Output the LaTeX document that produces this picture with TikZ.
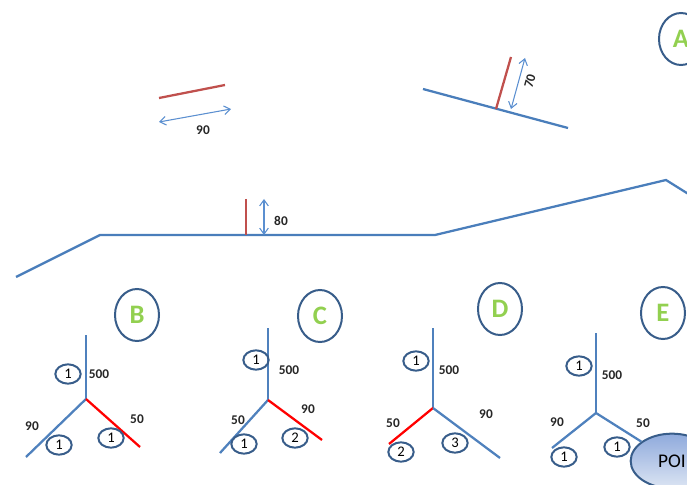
\documentclass[tikz,border=0pt]{standalone}
\usepackage{fontspec}
\setmainfont{Carlito}
\usetikzlibrary{arrows.meta,shapes.geometric}
\definecolor{lineblue}{HTML}{4F81BD}
\definecolor{roadblue}{HTML}{4A7EBB}
\definecolor{arrowblue}{HTML}{5B8FD0}
\definecolor{darkred}{HTML}{C0504D}
\definecolor{rimblue}{HTML}{385D8A}
\definecolor{lettergreen}{HTML}{92D050}
\definecolor{poitop}{HTML}{8FAADC}
\definecolor{poibottom}{HTML}{DCE5F3}
\tikzset{
  road/.style={draw=roadblue,line width=1.7pt,line join=miter},
  branch/.style={draw=lineblue,line width=1.7pt},
  hotbranch/.style={draw=red,line width=1.7pt},
  stub/.style={draw=darkred,line width=1.7pt},
  dimarrow/.style={draw=arrowblue,line width=.8pt,{Straight Barb[length=4.5pt,width=6.5pt]}-{Straight Barb[length=4.5pt,width=6.5pt]}},
  letterring/.style={ellipse,draw=rimblue,line width=1.5pt,minimum width=33pt,minimum height=39pt,inner sep=0pt,text=lettergreen,font=\fontsize{20}{22}\selectfont\bfseries},
  countring/.style={ellipse,draw=rimblue,line width=1.5pt,minimum width=19pt,minimum height=14.5pt,inner sep=0pt,font=\fontsize{11}{12}\selectfont},
  lenlabel/.style={inner sep=0pt,font=\fontsize{10}{11}\selectfont\bfseries,text=black!85},
  poinode/.style={ellipse,draw=rimblue,line width=1.5pt,minimum width=62pt,minimum height=41pt,inner sep=0pt,top color=poitop,bottom color=poibottom,font=\fontsize{14.5}{16}\selectfont}
}
\begin{document}
\begin{tikzpicture}[x=.75pt,y=-.75pt]
\useasboundingbox (0,0) rectangle (687,485);
\clip (0,0) rectangle (687,485);
% upper sketch
\coordinate (s1) at (159,98); \coordinate (s2) at (225,85);
\draw[stub] (s1) -- (s2);
\coordinate (d1) at (159,122); \coordinate (d2) at (231,109);
\draw[dimarrow] (d1) -- (d2);
\node[lenlabel] (l90) at (203,130) {90};
% A
\node[letterring] (A) at (681,39) {A};
\coordinate (a1) at (423,89); \coordinate (a2) at (568,128);
\draw[road] (a1) -- (a2);
\coordinate (a3) at (511,57); \coordinate (a4) at (496,109);
\draw[stub] (a3) -- (a4);
\coordinate (a5) at (525,58); \coordinate (a6) at (511,109);
\draw[dimarrow] (a5) -- (a6);
\node[lenlabel,rotate=75] (l70) at (530,81) {70};
% road
\coordinate (r1) at (16,277); \coordinate (r2) at (100,235); \coordinate (r3) at (435,235);
\coordinate (r4) at (666,180); \coordinate (r5) at (690,195);
\draw[road] (r1) -- (r2) -- (r3) -- (r4) -- (r5);
\coordinate (r6) at (246,199); \coordinate (r7) at (246,235);
\draw[stub] (r6) -- (r7);
\coordinate (r8) at (264,199); \coordinate (r9) at (264,235);
\draw[dimarrow] (r8) -- (r9);
\node[lenlabel] (l80) at (281,221) {80};
% B
\node[letterring] (B) at (137,315) {B};
\coordinate (bc) at (86,399); \coordinate (bt) at (86,335); \coordinate (bl) at (26,457); \coordinate (br) at (140,447);
\draw[branch] (bc) -- (bt); \draw[branch] (bc) -- (bl); \draw[hotbranch] (bc) -- (br);
\node[countring] (b1) at (68,374) {1};
\node[countring] (b2) at (59,445) {1};
\node[countring] (b3) at (111,438) {1};
\node[lenlabel] (b500) at (99,374) {500};
\node[lenlabel] (b90) at (32,426) {90};
\node[lenlabel] (b50) at (137,419) {50};
% C
\node[letterring] (C) at (320,316) {C};
\coordinate (cc) at (268,400); \coordinate (ct) at (268,328); \coordinate (cl) at (220,453); \coordinate (cr) at (322,440);
\draw[branch] (cc) -- (ct); \draw[branch] (cc) -- (cl); \draw[hotbranch] (cc) -- (cr);
\node[countring] (c1) at (256,360) {1};
\node[countring] (c2) at (244,444) {1};
\node[countring] (c3) at (295,438) {2};
\node[lenlabel] (c500) at (289,370) {500};
\node[lenlabel] (c50) at (238,420) {50};
\node[lenlabel] (c90) at (308,409) {90};
% D
\node[letterring] (D) at (500,309) {D};
\coordinate (dc) at (433,408); \coordinate (dt) at (433,328); \coordinate (dl) at (389,444); \coordinate (dr) at (500,458);
\draw[branch] (dc) -- (dt); \draw[hotbranch] (dc) -- (dl); \draw[branch] (dc) -- (dr);
\node[countring] (d1c) at (416,361) {1};
\node[countring] (d2c) at (401,452) {2};
\node[countring] (d3c) at (455,443) {3};
\node[lenlabel] (d500) at (449,370) {500};
\node[lenlabel] (d50) at (393,423) {50};
\node[lenlabel] (d90) at (486,414) {90};
% E
\node[letterring] (E) at (663,313) {E};
\coordinate (ec) at (596,413); \coordinate (et) at (596,333); \coordinate (el) at (552,448);
\node[poinode] (poi) at (672,461) {POI};
\draw[branch] (ec) -- (et); \draw[branch] (ec) -- (el); \draw[branch] (ec) -- (poi);
\node[countring] (e1) at (579,366) {1};
\node[countring] (e2) at (564,457) {1};
\node[countring] (e3) at (617,447) {1};
\node[lenlabel] (e500) at (612,375) {500};
\node[lenlabel] (e90) at (557,422) {90};
\node[lenlabel] (e50) at (643,423) {50};
\end{tikzpicture}
\end{document}
